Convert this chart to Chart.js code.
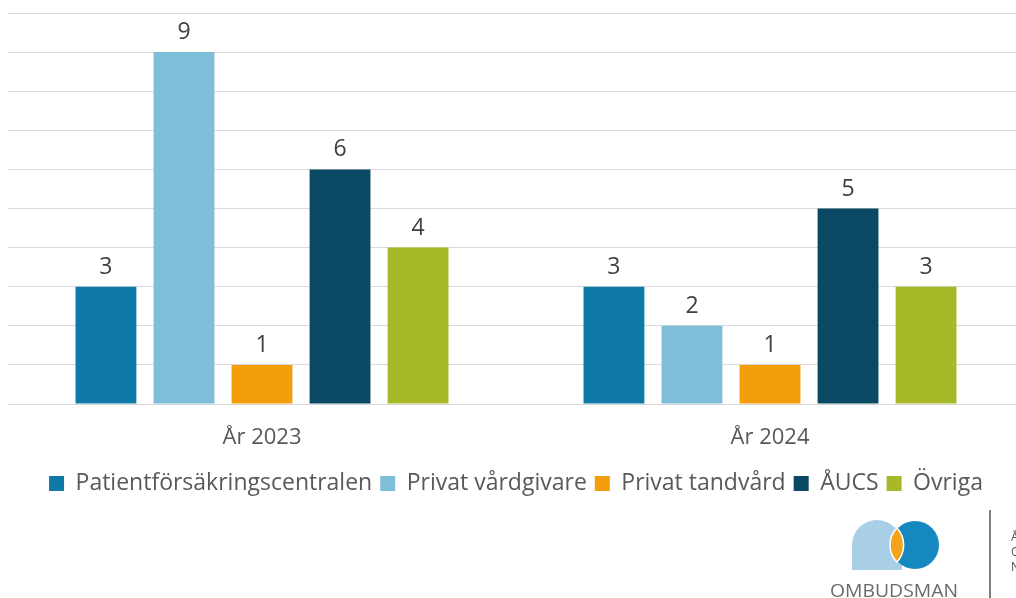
<!DOCTYPE html>
<html>
<head>
<meta charset="utf-8">
<script src="https://cdn.jsdelivr.net/npm/chart.js@4.4.0/dist/chart.umd.min.js"></script>
<style>
  html, body { margin: 0; padding: 0; background: #fff; overflow: hidden; }
  #wrap { position: relative; width: 1016px; height: 598px; overflow: hidden; }
  #box { position: absolute; left: 0; top: 0; width: 1032px; height: 509px; }
  #logo { position: absolute; left: 800px; top: 500px; }
</style>
</head>
<body>
<div id="wrap">
  <div id="box"><canvas id="chart"></canvas></div>
  <svg id="logo" width="216" height="98" viewBox="0 0 216 98">
    <path d="M52 70 L52 45 A25 25 0 1 1 102 45 L102 70 Z" fill="#a9cfe6"/>
    <circle cx="115" cy="45" r="24" fill="#1588c0"/>
    <path d="M97 28 A25 25 0 0 1 97 62 A24 24 0 0 1 97 28 Z" fill="#f2a51c" stroke="#fff" stroke-width="1.5"/>
    <text x="30" y="97" font-family="Open Sans, sans-serif" font-size="19" fill="#6b6b6b" textLength="128" lengthAdjust="spacingAndGlyphs">OMBUDSMAN</text>
    <line x1="190" y1="10" x2="190" y2="98" stroke="#555" stroke-width="1.5"/>
    <text x="211" y="41" font-family="Open Sans, sans-serif" font-size="12" fill="#555">Å</text>
    <text x="211" y="56" font-family="Open Sans, sans-serif" font-size="12" fill="#555">O</text>
    <text x="211" y="71" font-family="Open Sans, sans-serif" font-size="12" fill="#555">N</text>
  </svg>
</div>
<script>
const categories = ["År 2023", "År 2024"];
const seriesNames = ["Patientförsäkringscentralen", "Privat vårdgivare", "Privat tandvård", "ÅUCS", "Övriga"];
const patientValues = [3, 3];
const privatVardValues = [9, 2];
const tandvardValues = [1, 1];
const aucsValues = [6, 5];
const ovrigaValues = [4, 3];
const seriesColors = ["#0f7aa8", "#7fbed9", "#f59e0b", "#0a4963", "#a7b928"];

const allValues = [patientValues, privatVardValues, tandvardValues, aucsValues, ovrigaValues];

// etiketter ovanför staplarna
const valueLabels = {
  id: "valueLabels",
  afterDatasetsDraw(chart) {
    const ctx = chart.ctx;
    ctx.save();
    ctx.font = "23px 'Open Sans'";
    ctx.fillStyle = "#404040";
    ctx.textAlign = "center";
    ctx.textBaseline = "alphabetic";
    chart.data.datasets.forEach((ds, i) => {
      chart.getDatasetMeta(i).data.forEach((bar, j) => {
        ctx.fillText(ds.data[j], bar.x, bar.y - 13);
      });
    });
    ctx.restore();
  }
};

const ctx = document.getElementById("chart").getContext("2d");
new Chart(ctx, {
  type: "bar",
  data: {
    labels: categories,
    datasets: seriesNames.map((name, i) => ({
      label: name,
      data: allValues[i],
      backgroundColor: seriesColors[i],
      borderWidth: 0,
      barPercentage: 0.78,
      categoryPercentage: 0.768,
    })),
  },
  options: {
    responsive: true,
    maintainAspectRatio: false,
    animation: false,
    layout: { padding: { left: 8, right: 8, top: 13, bottom: 4 } },
    plugins: {
      tooltip: { enabled: false },
      legend: {
        position: "bottom",
        labels: {
          boxWidth: 15,
          boxHeight: 15,
          padding: 8,
          color: "#595959",
          font: { family: "'Open Sans'", size: 23 },
        },
      },
    },
    scales: {
      x: {
        grid: { display: false },
        border: { display: false },
        ticks: { color: "#595959", font: { family: "'Open Sans'", size: 22, lineHeight: 1.0 }, padding: 15 },
      },
      y: {
        min: 0,
        max: 10,
        ticks: { display: false, stepSize: 1 },
        grid: { color: "#d9d9d9", drawTicks: false },
        border: { display: false },
      },
    },
  },
  plugins: [valueLabels],
});
</script>
</body>
</html>
